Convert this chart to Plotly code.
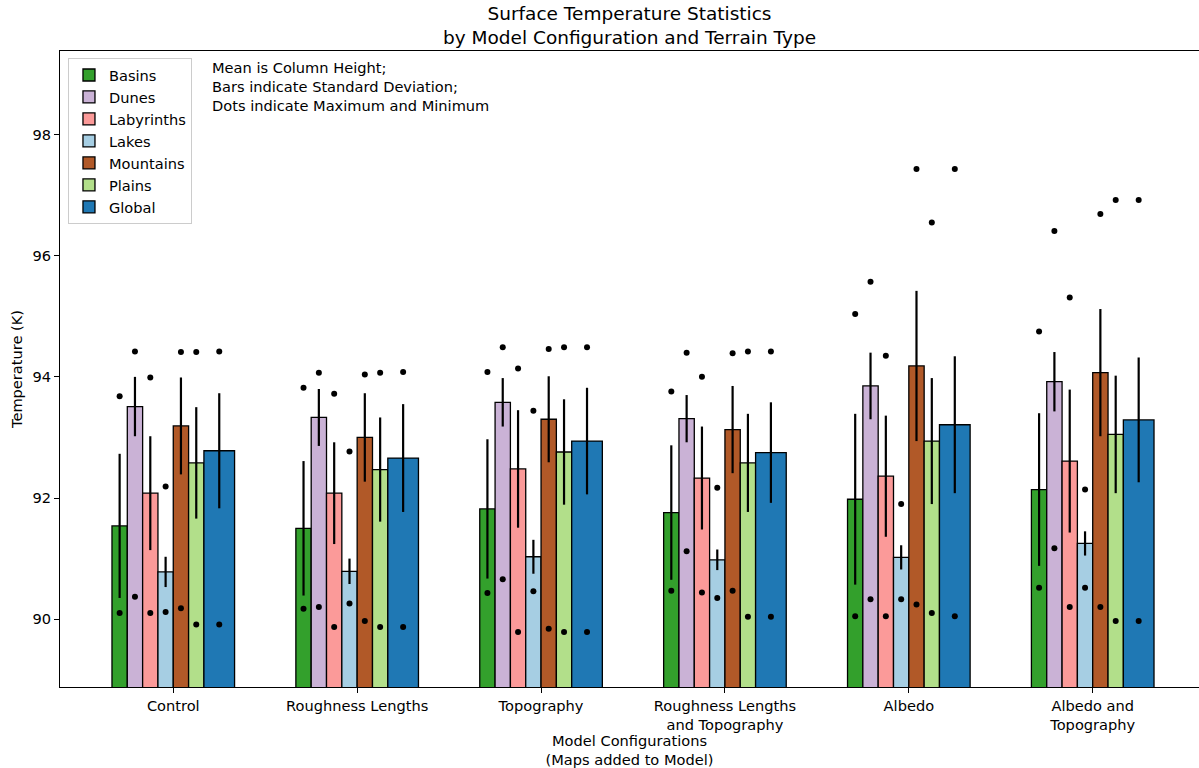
import plotly.graph_objects as go

configs = ["Control", "Roughness Lengths", "Topography",
           "Roughness Lengths<br>and Topography", "Albedo", "Albedo and<br>Topography"]
terrains = ["Basins", "Dunes", "Labyrinths", "Lakes", "Mountains", "Plains", "Global"]
colors = ["#33a02c", "#cab2d6", "#fb9a99", "#a6cee3", "#b15928", "#b2df8a", "#1f78b4"]

# mean values per terrain, ordered by config
mean_basins = [91.54, 91.50, 91.82, 91.76, 91.98, 92.14]
mean_dunes = [93.51, 93.33, 93.58, 93.31, 93.85, 93.92]
mean_labyrinths = [92.08, 92.08, 92.48, 92.33, 92.36, 92.61]
mean_lakes = [90.78, 90.79, 91.03, 90.98, 91.02, 91.25]
mean_mountains = [93.19, 93.00, 93.30, 93.13, 94.18, 94.07]
mean_plains = [92.58, 92.47, 92.76, 92.58, 92.94, 93.05]
mean_global = [92.78, 92.66, 92.94, 92.75, 93.21, 93.29]

std_basins = [1.19, 1.11, 1.15, 1.11, 1.41, 1.26]
std_dunes = [0.49, 0.47, 0.40, 0.39, 0.55, 0.49]
std_labyrinths = [0.94, 0.84, 0.97, 0.85, 1.00, 1.18]
std_lakes = [0.25, 0.21, 0.28, 0.17, 0.20, 0.20]
std_mountains = [0.80, 0.73, 0.71, 0.72, 1.24, 1.05]
std_plains = [0.92, 0.86, 0.87, 0.81, 1.04, 0.97]
std_global = [0.95, 0.89, 0.88, 0.83, 1.13, 1.03]

max_basins = [93.68, 93.82, 94.08, 93.76, 95.04, 94.75]
max_dunes = [94.42, 94.07, 94.49, 94.40, 95.57, 96.41]
max_labyrinths = [93.99, 93.72, 94.14, 94.00, 94.35, 95.31]
max_lakes = [92.19, 92.77, 93.44, 92.17, 91.90, 92.14]
max_mountains = [94.41, 94.04, 94.46, 94.39, 97.43, 96.69]
max_plains = [94.41, 94.07, 94.49, 94.42, 96.55, 96.92]
max_global = [94.42, 94.08, 94.49, 94.42, 97.43, 96.92]

min_basins = [90.10, 90.17, 90.43, 90.47, 90.05, 90.52]
min_dunes = [90.37, 90.20, 90.66, 91.12, 90.33, 91.17]
min_labyrinths = [90.10, 89.87, 89.79, 90.44, 90.05, 90.20]
min_lakes = [90.12, 90.26, 90.46, 90.35, 90.33, 90.52]
min_mountains = [90.18, 89.97, 89.84, 90.47, 90.24, 90.20]
min_plains = [89.91, 89.87, 89.79, 90.04, 90.10, 89.97]
min_global = [89.91, 89.87, 89.79, 90.04, 90.05, 89.97]

means = [mean_basins, mean_dunes, mean_labyrinths, mean_lakes, mean_mountains, mean_plains, mean_global]
stds = [std_basins, std_dunes, std_labyrinths, std_lakes, std_mountains, std_plains, std_global]
maxs = [max_basins, max_dunes, max_labyrinths, max_lakes, max_mountains, max_plains, max_global]
mins = [min_basins, min_dunes, min_labyrinths, min_lakes, min_mountains, min_plains, min_global]

# bar layout (in category units): six narrow bars + one double-width "Global" bar
w = 1.0 / 12
lefts = [-4 * w, -3 * w, -2 * w, -1 * w, 0, w, 2 * w]
widths = [w, w, w, w, w, w, 2 * w]

FONT = "DejaVu Sans"
FS = 14.6
fig = go.Figure()
for i, name in enumerate(terrains):
    xs = [g + lefts[i] + widths[i] / 2 for g in range(len(configs))]
    fig.add_trace(go.Bar(
        x=xs, y=means[i], width=widths[i], name=name,
        marker=dict(color=colors[i], line=dict(color="black", width=1.3)),
        error_y=dict(type="data", array=stds[i], visible=True, color="black",
                     thickness=2.2, width=0),
    ))
for i, name in enumerate(terrains):
    xs = [g + lefts[i] + widths[i] / 2 for g in range(len(configs))]
    fig.add_trace(go.Scatter(
        x=xs + xs, y=maxs[i] + mins[i], mode="markers",
        marker=dict(color="black", size=6), showlegend=False, hoverinfo="skip",
    ))

fig.update_layout(
    width=1199, height=768,
    barmode="overlay",
    paper_bgcolor="white", plot_bgcolor="white",
    margin=dict(l=60, r=0, t=51, b=79),
    font=dict(family=FONT, size=FS, color="black"),
    legend=dict(x=0.007, y=0.989, xanchor="left", yanchor="top",
                bordercolor="#cccccc", borderwidth=1, bgcolor="white",
                font=dict(family=FONT, size=FS), tracegroupgap=0),
    showlegend=True,
)
fig.update_xaxes(
    range=[-0.616, 5.578], tickmode="array", tickvals=list(range(len(configs))),
    ticktext=configs, ticks="outside", ticklen=5, tickcolor="black",
    showline=True, linecolor="black", linewidth=1, mirror=True,
    showgrid=False, zeroline=False,
    title=dict(text="Model Configurations<br>(Maps added to Model)", standoff=6,
               font=dict(family=FONT, size=FS)),
    tickfont=dict(family=FONT, size=FS),
)
fig.update_yaxes(
    range=[88.88, 99.38], tickmode="array", tickvals=[90, 92, 94, 96, 98],
    ticks="outside", ticklen=5, tickcolor="black",
    showline=True, linecolor="black", linewidth=1,
    showgrid=False, zeroline=False,
    title=dict(text="Temperature (K)", standoff=6, font=dict(family=FONT, size=FS)),
    tickfont=dict(family=FONT, size=FS),
)
# title (as annotation so both lines sit just above the axes)
fig.add_annotation(
    text="Surface Temperature Statistics<br>by Model Configuration and Terrain Type",
    x=0.5, y=1.002, xref="paper", yref="paper", xanchor="center", yanchor="bottom",
    align="center", showarrow=False, font=dict(family=FONT, size=18.5, color="black"),
)
fig.add_annotation(
    text="Mean is Column Height;<br>Bars indicate Standard Deviation;<br>Dots indicate Maximum and Minimum",
    x=0.1317, y=0.99, xref="paper", yref="paper", xanchor="left", yanchor="top",
    align="left", showarrow=False, font=dict(family=FONT, size=FS, color="black"),
)

fig.write_html("out.html", config={"displayModeBar": False},
               post_script="document.body.style.margin='0';document.body.style.overflow='hidden';")
